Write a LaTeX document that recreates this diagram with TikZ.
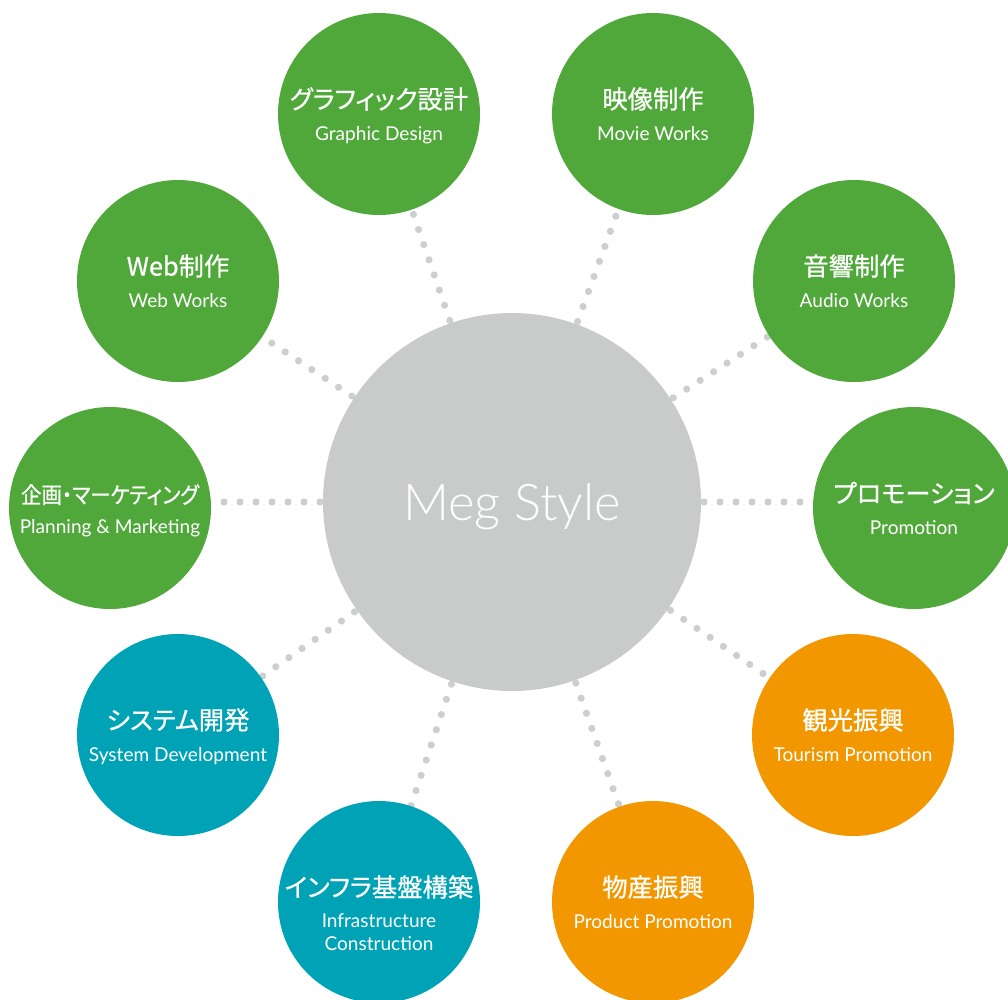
\documentclass[tikz,border=0pt]{standalone}
\usepackage{fontspec}
\setmainfont{Lato}
\newfontfamily\jpfont[RawFeature=+palt,FakeBold=0.7]{Noto Sans CJK JP}
\newfontfamily\hubfont{Lato Light}
\usetikzlibrary{backgrounds}
\definecolor{mgreen}{RGB}{80,168,58}
\definecolor{mteal}{RGB}{0,163,181}
\definecolor{morange}{RGB}{242,151,0}
\definecolor{mgray}{RGB}{201,202,202}
\definecolor{mdot}{RGB}{205,206,206}
\begin{document}
\begin{tikzpicture}[x=0.75pt,y=-0.75pt,
  hub/.style={circle,fill=mgray,minimum size=283.5pt,inner sep=0pt},
  topic/.style={circle,minimum size=151.5pt,inner sep=0pt},
  jp/.style={font=\jpfont\fontsize{19}{22}\selectfont,text=white,inner sep=0pt},
  en/.style={font=\fontsize{14.3}{16}\selectfont,text=white,inner sep=0pt,anchor=base},
  hubtext/.style={font=\hubfont\fontsize{38}{40}\selectfont,text=white,inner sep=0pt,anchor=base},
  link/.style={draw=mdot,line width=5.4pt,line cap=round,dash pattern=on 0pt off 12pt}]
\useasboundingbox (0,0) rectangle (1008,1000);
\clip (0,0) rectangle (1008,1000);

% hub
\node[hub] (hub) at (512,502) {};
\node[hubtext] (hubt) at ([yshift=-13.5pt]hub.center) {Meg Style};

% topics
\node[topic,fill=mgreen] (gd) at (379,114) {};
\node[topic,fill=mgreen] (mv) at (653,114) {};
\node[topic,fill=mgreen] (web) at (178,281) {};
\node[topic,fill=mgreen] (au) at (854,281) {};
\node[topic,fill=mgreen] (pl) at (110,508) {};
\node[topic,fill=mgreen] (pr) at (914,508) {};
\node[topic,fill=mteal] (sd) at (178,735) {};
\node[topic,fill=morange] (tp) at (853,735) {};
\node[topic,fill=mteal] (ic) at (379,902) {};
\node[topic,fill=morange] (pp) at (653,902) {};

% labels
\node[jp] (gdj) at ([yshift=11.25pt]gd.center) {グラフィック設計};
\node[en] (gde) at ([yshift=-19.5pt]gd.center) {Graphic Design};
\node[jp] (mvj) at ([yshift=11.25pt]mv.center) {映像制作};
\node[en] (mve) at ([yshift=-19.5pt]mv.center) {Movie Works};
\node[jp] (webj) at ([yshift=11.25pt]web.center) {Web制作};
\node[en] (webe) at ([yshift=-19.5pt]web.center) {Web Works};
\node[jp] (auj) at ([yshift=11.25pt]au.center) {音響制作};
\node[en] (aue) at ([yshift=-19.5pt]au.center) {Audio Works};
\node[jp,font=\jpfont\fontsize{17}{20}\selectfont] (plj) at ([yshift=10pt]pl.center) {\scalebox{0.9}[1]{企画・マーケティング}};
\node[en] (ple) at ([yshift=-19pt]pl.center) {Planning \& Marketing};
\node[jp] (prj) at ([yshift=11.25pt]pr.center) {プロモーション};
\node[en] (pre) at ([yshift=-19.5pt]pr.center) {Promotion};
\node[jp] (sdj) at ([yshift=11.25pt]sd.center) {システム開発};
\node[en] (sde) at ([yshift=-19.5pt]sd.center) {System Development};
\node[jp] (tpj) at ([yshift=11.25pt]tp.center) {観光振興};
\node[en] (tpe) at ([yshift=-19.5pt]tp.center) {Tourism Promotion};
\node[jp] (icj) at ([yshift=11.25pt]ic.center) {インフラ基盤構築};
\node[en] (ice1) at ([yshift=-18.75pt]ic.center) {Infrastructure};
\node[en] (ice2) at ([yshift=-36pt]ic.center) {Construction};
\node[jp] (ppj) at ([yshift=11.25pt]pp.center) {物産振興};
\node[en] (ppe) at ([yshift=-19.5pt]pp.center) {Product Promotion};

% connectors
\begin{pgfonlayer}{background}
\draw[link] (hub.center) -- (gd.center);
\draw[link] (hub.center) -- (mv.center);
\draw[link] (hub.center) -- (web.center);
\draw[link] (hub.center) -- (au.center);
\draw[link] (hub.center) -- (pl.center |- hub.center);
\draw[link] (hub.center) -- (pr.center |- hub.center);
\draw[link] (hub.center) -- (sd.center);
\draw[link] (hub.center) -- (tp.center);
\draw[link] (hub.center) -- (ic.center);
\draw[link] (hub.center) -- (pp.center);
\end{pgfonlayer}
\end{tikzpicture}
\end{document}
